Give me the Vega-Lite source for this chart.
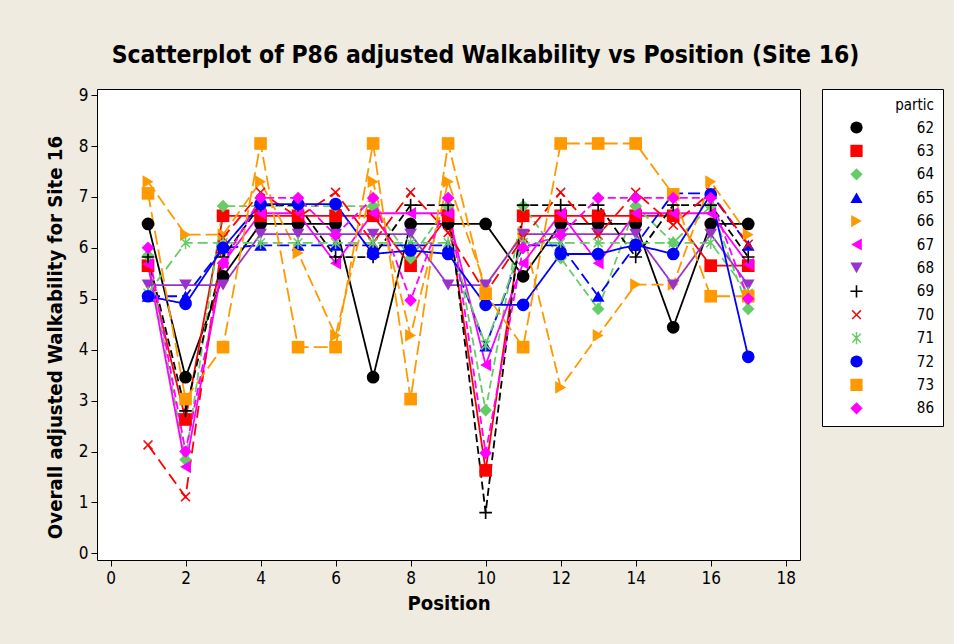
{
  "$schema": "https://vega.github.io/schema/vega-lite/v6.json",
  "autosize": "none",
  "width": 703,
  "height": 471,
  "padding": {"left": 97, "top": 89, "right": 154, "bottom": 84},
  "background": "#EFEBE1",
  "title": {
    "text": "Scatterplot of P86 adjusted Walkability vs Position (Site 16)",
    "font": "DejaVu Sans Condensed",
    "fontSize": 24.5,
    "fontWeight": "bold",
    "color": "black",
    "anchor": "middle",
    "frame": "group",
    "dx": 37,
    "offset": 18
  },
  "datasets": {
    "walk": [
      {"partic":"62","Position":1,"Walkability":6.47},{"partic":"62","Position":2,"Walkability":3.46},{"partic":"62","Position":3,"Walkability":5.44},{"partic":"62","Position":4,"Walkability":6.47},{"partic":"62","Position":5,"Walkability":6.47},{"partic":"62","Position":6,"Walkability":6.47},{"partic":"62","Position":7,"Walkability":3.46},{"partic":"62","Position":8,"Walkability":6.47},{"partic":"62","Position":9,"Walkability":6.47},{"partic":"62","Position":10,"Walkability":6.47},{"partic":"62","Position":11,"Walkability":5.44},{"partic":"62","Position":12,"Walkability":6.47},{"partic":"62","Position":13,"Walkability":6.47},{"partic":"62","Position":14,"Walkability":6.47},{"partic":"62","Position":15,"Walkability":4.44},{"partic":"62","Position":16,"Walkability":6.47},{"partic":"62","Position":17,"Walkability":6.47},
      {"partic":"63","Position":1,"Walkability":5.65},{"partic":"63","Position":2,"Walkability":2.63},{"partic":"63","Position":3,"Walkability":6.63},{"partic":"63","Position":4,"Walkability":6.63},{"partic":"63","Position":5,"Walkability":6.63},{"partic":"63","Position":6,"Walkability":6.63},{"partic":"63","Position":7,"Walkability":6.63},{"partic":"63","Position":8,"Walkability":5.65},{"partic":"63","Position":9,"Walkability":6.63},{"partic":"63","Position":10,"Walkability":1.63},{"partic":"63","Position":11,"Walkability":6.63},{"partic":"63","Position":12,"Walkability":6.63},{"partic":"63","Position":13,"Walkability":6.63},{"partic":"63","Position":14,"Walkability":6.63},{"partic":"63","Position":15,"Walkability":6.63},{"partic":"63","Position":16,"Walkability":5.65},{"partic":"63","Position":17,"Walkability":5.65},
      {"partic":"64","Position":1,"Walkability":5.85},{"partic":"64","Position":2,"Walkability":1.84},{"partic":"64","Position":3,"Walkability":6.82},{"partic":"64","Position":4,"Walkability":6.82},{"partic":"64","Position":5,"Walkability":6.82},{"partic":"64","Position":6,"Walkability":6.82},{"partic":"64","Position":7,"Walkability":6.82},{"partic":"64","Position":8,"Walkability":5.8},{"partic":"64","Position":9,"Walkability":6.82},{"partic":"64","Position":10,"Walkability":2.81},{"partic":"64","Position":11,"Walkability":6.82},{"partic":"64","Position":12,"Walkability":5.8},{"partic":"64","Position":13,"Walkability":4.8},{"partic":"64","Position":14,"Walkability":6.82},{"partic":"64","Position":15,"Walkability":6.1},{"partic":"64","Position":16,"Walkability":6.82},{"partic":"64","Position":17,"Walkability":4.8},
      {"partic":"65","Position":1,"Walkability":5.05},{"partic":"65","Position":2,"Walkability":5.05},{"partic":"65","Position":3,"Walkability":6.0},{"partic":"65","Position":4,"Walkability":6.05},{"partic":"65","Position":5,"Walkability":6.05},{"partic":"65","Position":6,"Walkability":6.05},{"partic":"65","Position":7,"Walkability":6.05},{"partic":"65","Position":8,"Walkability":6.05},{"partic":"65","Position":9,"Walkability":6.05},{"partic":"65","Position":10,"Walkability":4.07},{"partic":"65","Position":11,"Walkability":6.05},{"partic":"65","Position":12,"Walkability":6.05},{"partic":"65","Position":13,"Walkability":5.05},{"partic":"65","Position":14,"Walkability":6.05},{"partic":"65","Position":15,"Walkability":7.07},{"partic":"65","Position":16,"Walkability":7.07},{"partic":"65","Position":17,"Walkability":6.05},
      {"partic":"66","Position":1,"Walkability":7.3},{"partic":"66","Position":2,"Walkability":6.26},{"partic":"66","Position":3,"Walkability":6.26},{"partic":"66","Position":4,"Walkability":7.3},{"partic":"66","Position":5,"Walkability":5.9},{"partic":"66","Position":6,"Walkability":4.28},{"partic":"66","Position":7,"Walkability":7.3},{"partic":"66","Position":8,"Walkability":4.28},{"partic":"66","Position":9,"Walkability":7.3},{"partic":"66","Position":10,"Walkability":5.25},{"partic":"66","Position":11,"Walkability":6.3},{"partic":"66","Position":12,"Walkability":3.26},{"partic":"66","Position":13,"Walkability":4.28},{"partic":"66","Position":14,"Walkability":5.28},{"partic":"66","Position":15,"Walkability":5.28},{"partic":"66","Position":16,"Walkability":7.3},{"partic":"66","Position":17,"Walkability":6.26},
      {"partic":"67","Position":1,"Walkability":5.68},{"partic":"67","Position":2,"Walkability":1.7},{"partic":"67","Position":3,"Walkability":5.7},{"partic":"67","Position":4,"Walkability":6.68},{"partic":"67","Position":5,"Walkability":6.68},{"partic":"67","Position":6,"Walkability":5.7},{"partic":"67","Position":7,"Walkability":6.68},{"partic":"67","Position":8,"Walkability":6.68},{"partic":"67","Position":9,"Walkability":6.68},{"partic":"67","Position":10,"Walkability":3.7},{"partic":"67","Position":11,"Walkability":5.7},{"partic":"67","Position":12,"Walkability":6.68},{"partic":"67","Position":13,"Walkability":5.7},{"partic":"67","Position":14,"Walkability":6.68},{"partic":"67","Position":15,"Walkability":6.68},{"partic":"67","Position":16,"Walkability":6.68},{"partic":"67","Position":17,"Walkability":5.68},
      {"partic":"68","Position":1,"Walkability":5.27},{"partic":"68","Position":2,"Walkability":5.27},{"partic":"68","Position":3,"Walkability":5.27},{"partic":"68","Position":4,"Walkability":6.27},{"partic":"68","Position":5,"Walkability":6.27},{"partic":"68","Position":6,"Walkability":6.27},{"partic":"68","Position":7,"Walkability":6.27},{"partic":"68","Position":8,"Walkability":6.27},{"partic":"68","Position":9,"Walkability":5.27},{"partic":"68","Position":10,"Walkability":5.27},{"partic":"68","Position":11,"Walkability":6.27},{"partic":"68","Position":12,"Walkability":6.27},{"partic":"68","Position":13,"Walkability":6.27},{"partic":"68","Position":14,"Walkability":6.27},{"partic":"68","Position":15,"Walkability":5.27},{"partic":"68","Position":16,"Walkability":6.27},{"partic":"68","Position":17,"Walkability":5.27},
      {"partic":"69","Position":1,"Walkability":5.82},{"partic":"69","Position":2,"Walkability":2.8},{"partic":"69","Position":3,"Walkability":5.82},{"partic":"69","Position":4,"Walkability":6.84},{"partic":"69","Position":5,"Walkability":6.84},{"partic":"69","Position":6,"Walkability":5.82},{"partic":"69","Position":7,"Walkability":5.82},{"partic":"69","Position":8,"Walkability":6.84},{"partic":"69","Position":9,"Walkability":6.84},{"partic":"69","Position":10,"Walkability":0.8},{"partic":"69","Position":11,"Walkability":6.84},{"partic":"69","Position":12,"Walkability":6.84},{"partic":"69","Position":13,"Walkability":6.84},{"partic":"69","Position":14,"Walkability":5.82},{"partic":"69","Position":15,"Walkability":6.84},{"partic":"69","Position":16,"Walkability":6.84},{"partic":"69","Position":17,"Walkability":5.82},
      {"partic":"70","Position":1,"Walkability":2.13},{"partic":"70","Position":2,"Walkability":1.11},{"partic":"70","Position":3,"Walkability":6.2},{"partic":"70","Position":4,"Walkability":7.09},{"partic":"70","Position":5,"Walkability":6.6},{"partic":"70","Position":6,"Walkability":7.09},{"partic":"70","Position":7,"Walkability":6.1},{"partic":"70","Position":8,"Walkability":7.09},{"partic":"70","Position":9,"Walkability":6.3},{"partic":"70","Position":10,"Walkability":5.11},{"partic":"70","Position":11,"Walkability":6.2},{"partic":"70","Position":12,"Walkability":7.09},{"partic":"70","Position":13,"Walkability":6.25},{"partic":"70","Position":14,"Walkability":7.09},{"partic":"70","Position":15,"Walkability":6.45},{"partic":"70","Position":16,"Walkability":7.09},{"partic":"70","Position":17,"Walkability":6.07},
      {"partic":"71","Position":1,"Walkability":5.11},{"partic":"71","Position":2,"Walkability":6.1},{"partic":"71","Position":3,"Walkability":6.1},{"partic":"71","Position":4,"Walkability":6.1},{"partic":"71","Position":5,"Walkability":6.1},{"partic":"71","Position":6,"Walkability":6.1},{"partic":"71","Position":7,"Walkability":6.1},{"partic":"71","Position":8,"Walkability":6.1},{"partic":"71","Position":9,"Walkability":6.1},{"partic":"71","Position":10,"Walkability":4.09},{"partic":"71","Position":11,"Walkability":6.1},{"partic":"71","Position":12,"Walkability":6.1},{"partic":"71","Position":13,"Walkability":6.1},{"partic":"71","Position":14,"Walkability":6.1},{"partic":"71","Position":15,"Walkability":6.1},{"partic":"71","Position":16,"Walkability":6.1},{"partic":"71","Position":17,"Walkability":5.11},
      {"partic":"72","Position":1,"Walkability":5.05},{"partic":"72","Position":2,"Walkability":4.9},{"partic":"72","Position":3,"Walkability":6.0},{"partic":"72","Position":4,"Walkability":6.86},{"partic":"72","Position":5,"Walkability":6.86},{"partic":"72","Position":6,"Walkability":6.86},{"partic":"72","Position":7,"Walkability":5.88},{"partic":"72","Position":8,"Walkability":5.95},{"partic":"72","Position":9,"Walkability":5.88},{"partic":"72","Position":10,"Walkability":4.88},{"partic":"72","Position":11,"Walkability":4.88},{"partic":"72","Position":12,"Walkability":5.88},{"partic":"72","Position":13,"Walkability":5.88},{"partic":"72","Position":14,"Walkability":6.06},{"partic":"72","Position":15,"Walkability":5.88},{"partic":"72","Position":16,"Walkability":7.05},{"partic":"72","Position":17,"Walkability":3.86},
      {"partic":"73","Position":1,"Walkability":7.07},{"partic":"73","Position":2,"Walkability":3.03},{"partic":"73","Position":3,"Walkability":4.05},{"partic":"73","Position":4,"Walkability":8.05},{"partic":"73","Position":5,"Walkability":4.05},{"partic":"73","Position":6,"Walkability":4.05},{"partic":"73","Position":7,"Walkability":8.05},{"partic":"73","Position":8,"Walkability":3.03},{"partic":"73","Position":9,"Walkability":8.05},{"partic":"73","Position":10,"Walkability":5.1},{"partic":"73","Position":11,"Walkability":4.05},{"partic":"73","Position":12,"Walkability":8.05},{"partic":"73","Position":13,"Walkability":8.05},{"partic":"73","Position":14,"Walkability":8.05},{"partic":"73","Position":15,"Walkability":7.05},{"partic":"73","Position":16,"Walkability":5.05},{"partic":"73","Position":17,"Walkability":5.05},
      {"partic":"86","Position":1,"Walkability":6.0},{"partic":"86","Position":2,"Walkability":2.0},{"partic":"86","Position":3,"Walkability":5.7},{"partic":"86","Position":4,"Walkability":6.98},{"partic":"86","Position":5,"Walkability":6.98},{"partic":"86","Position":6,"Walkability":6.25},{"partic":"86","Position":7,"Walkability":6.98},{"partic":"86","Position":8,"Walkability":4.97},{"partic":"86","Position":9,"Walkability":6.98},{"partic":"86","Position":10,"Walkability":1.97},{"partic":"86","Position":11,"Walkability":6.0},{"partic":"86","Position":12,"Walkability":6.25},{"partic":"86","Position":13,"Walkability":6.98},{"partic":"86","Position":14,"Walkability":6.98},{"partic":"86","Position":15,"Walkability":6.98},{"partic":"86","Position":16,"Walkability":6.98},{"partic":"86","Position":17,"Walkability":5.0}
    ]
  },
  "data": {"name": "walk"},
  "encoding": {
    "x": {
      "field": "Position", "type": "quantitative",
      "scale": {"domain": [-0.36, 18.38], "nice": false, "zero": false},
      "axis": {"values": [0,2,4,6,8,10,12,14,16,18], "title": "Position"}
    },
    "y": {
      "field": "Walkability", "type": "quantitative",
      "scale": {"domain": [-0.13, 9.12], "nice": false, "zero": false},
      "axis": {"values": [0,1,2,3,4,5,6,7,8,9], "title": "Overall adjusted Walkability for Site 16", "titleY": 248}
    },
    "color": {
      "field": "partic", "type": "nominal", "title": "partic",
      "scale": {
        "domain": ["62","63","64","65","66","67","68","69","70","71","72","73","86"],
        "range": ["#000000","#FF0000","#66CC66","#0000FF","#FF9900","#FF00FF","#9933CC","#000000","#FF0000","#66CC66","#0000FF","#FF9900","#FF00FF"]
      }
    }
  },
  "layer": [
    {
      "mark": {"type": "line", "strokeWidth": 1.8},
      "encoding": {
        "strokeDash": {
          "field": "partic", "type": "nominal", "title": "partic",
          "scale": {
            "domain": ["62","63","64","65","66","67","68","69","70","71","72","73","86"],
            "range": [[1,0],[1,0],[8,4],[12,5],[12,5],[1,0],[1,0],[8,4],[12,6],[10,5],[1,0],[14,5],[8,4]]
          }
        },
        "order": {"field": "Position", "type": "quantitative"}
      }
    },
    {
      "mark": {"type": "point", "filled": true, "size": 160, "opacity": 1},
      "encoding": {
        "shape": {
          "field": "partic", "type": "nominal", "title": "partic",
          "scale": {
            "domain": ["62","63","64","65","66","67","68","69","70","71","72","73","86"],
            "range": [
              "circle", "square", "diamond", "triangle-up", "triangle-right", "triangle-left", "triangle-down",
              "M-1,-0.13H-0.13V-1H0.13V-0.13H1V0.13H0.13V1H-0.13V0.13H-1Z",
              "M-0.622,-0.792L0,-0.17L0.622,-0.792L0.792,-0.622L0.17,0L0.792,0.622L0.622,0.792L0,0.17L-0.622,0.792L-0.792,0.622L-0.17,0L-0.792,-0.622Z",
              "M-0.622,-0.792L0,-0.17L0.622,-0.792L0.792,-0.622L0.17,0L0.792,0.622L0.622,0.792L0,0.17L-0.622,0.792L-0.792,0.622L-0.17,0L-0.792,-0.622ZM-0.12,-1H0.12V1H-0.12Z",
              "circle", "square", "diamond"
            ]
          }
        }
      }
    }
  ],
  "config": {
    "font": "DejaVu Sans Condensed",
    "view": {"stroke": "black", "strokeWidth": 1, "fill": "white"},
    "axis": {
      "grid": false,
      "domain": false,
      "tickColor": "black",
      "tickSize": 6,
      "tickWidth": 1,
      "labelColor": "black",
      "labelFont": "DejaVu Sans Condensed",
      "labelFontSize": 17,
      "titleFont": "DejaVu Sans Condensed",
      "titleFontSize": 20.2,
      "titleFontWeight": "bold",
      "titleColor": "black"
    },
    "axisX": {"labelPadding": 4, "titlePadding": 7, "labelFlush": false},
    "axisY": {"labelPadding": 3, "titlePadding": 13, "labelFlush": false},
    "legend": {
      "orient": "none",
      "legendX": 725,
      "legendY": 0,
      "strokeColor": "black",
      "fillColor": "white",
      "padding": 9,
      "titleFont": "DejaVu Sans Condensed",
      "titleFontSize": 15,
      "titleFontWeight": "normal",
      "titleColor": "black",
      "titleAnchor": "end",
      "titleAlign": "right",
      "titlePadding": 7,
      "labelFont": "DejaVu Sans Condensed",
      "labelFontSize": 15,
      "labelColor": "black",
      "labelAlign": "right",
      "labelOffset": 70,
      "symbolOffset": 18,
      "symbolSize": 150,
      "symbolStrokeWidth": 0,
      "symbolOpacity": 1,
      "rowPadding": 7.4
    }
  }
}
